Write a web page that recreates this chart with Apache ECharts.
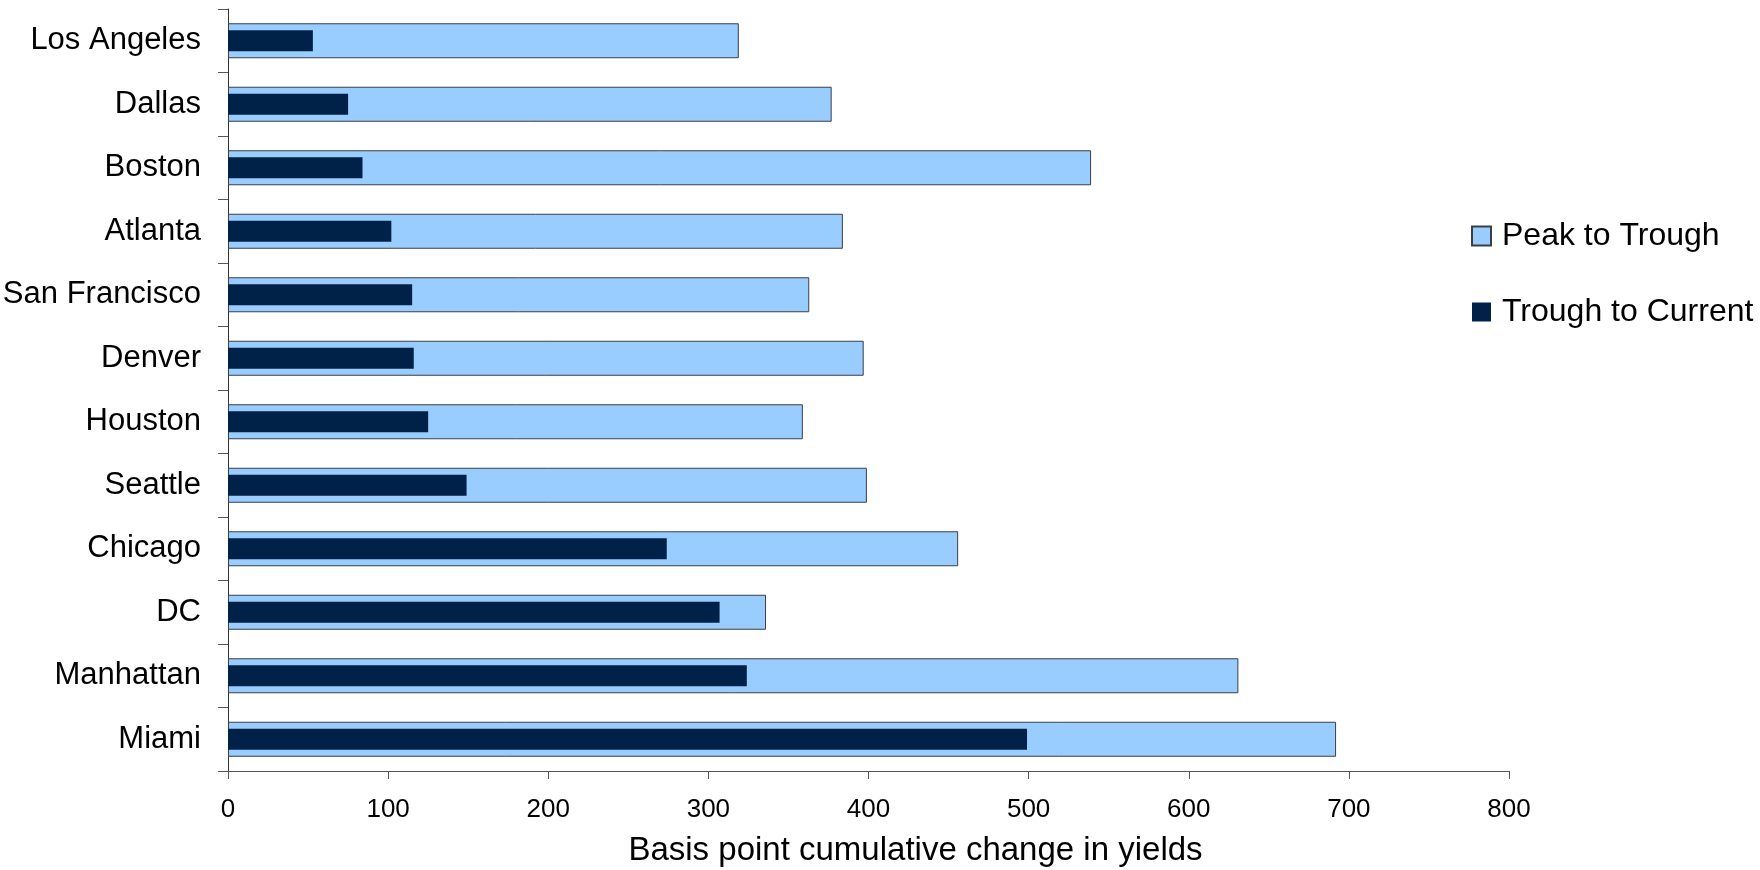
<!DOCTYPE html>
<html>
<head>
<meta charset="utf-8">
<script src="https://cdn.jsdelivr.net/npm/echarts@6/dist/echarts.min.js"></script>
<style>
html,body{margin:0;padding:0;background:#fff;}
#chart{width:1760px;height:870px;}
</style>
</head>
<body>
<div id="chart"></div>
<script>
const categories = ["Los Angeles","Dallas","Boston","Atlanta","San Francisco","Denver","Houston","Seattle","Chicago","DC","Manhattan","Miami"];
const peakToTrough = [319,377,539,384,363,397,359,399,456,336,631,692];
const troughToCurrent = [53,75,84,102,115,116,125,149,274,307,324,499];
const xTicks = {min:0,max:800,interval:100};
const axisTitle = "Basis point cumulative change in yields";

const FONT = "Liberation Sans, Arial, sans-serif";
const chart = echarts.init(document.getElementById('chart'));
chart.setOption({
  animation:false,
  backgroundColor:'#fff',
  grid:{left:228,right:251,top:9,bottom:99,containLabel:false,outerBoundsMode:'none'},
  legend:{
    orient:'vertical',left:1466,top:215,
    itemWidth:19,itemHeight:19,itemGap:44,
    icon:'rect',
    textStyle:{fontFamily:FONT,fontSize:32,color:'#000',padding:[0,0,0,6]},
    data:['Peak to Trough','Trough to Current']
  },
  xAxis:{
    type:'value',min:xTicks.min,max:xTicks.max,interval:xTicks.interval,
    axisLine:{show:true,lineStyle:{color:'#555',width:1}},
    axisTick:{show:true,length:8,lineStyle:{color:'#555'}},
    splitLine:{show:false},
    axisLabel:{fontFamily:FONT,fontSize:26,color:'#000',margin:26},
    name:axisTitle,nameLocation:'middle',nameGap:63,
    nameTextStyle:{fontFamily:FONT,fontSize:33,color:'#000',padding:[0,0,0,94]}
  },
  yAxis:[{
    type:'category',data:categories,inverse:true,
    axisLine:{show:true,lineStyle:{color:'#333',width:1}},
    axisTick:{show:true,length:10,lineStyle:{color:'#555'}},
    axisLabel:{fontFamily:FONT,fontSize:31,color:'#000',margin:27}
  },{
    type:'category',data:categories,inverse:true,show:false
  }],
  series:[{
    name:'Peak to Trough',type:'bar',yAxisIndex:0,
    data:peakToTrough,barWidth:35,
    itemStyle:{color:'#99CCFF',borderColor:'#3a3f47',borderWidth:1}
  },{
    name:'Trough to Current',type:'bar',yAxisIndex:1,
    data:troughToCurrent,barWidth:21,z:3,
    itemStyle:{color:'#002148'}
  }]
});
</script>
</body>
</html>
